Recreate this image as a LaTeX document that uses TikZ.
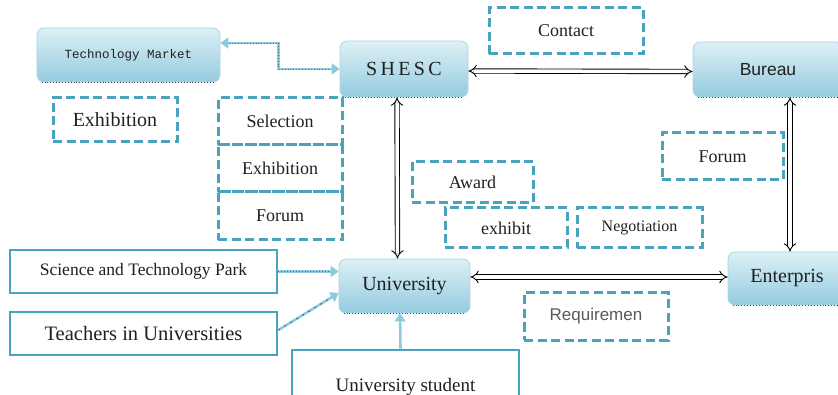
\documentclass[tikz,border=0pt]{standalone}
\usepackage{fontspec}
\setmainfont{Liberation Serif}
\setsansfont{Liberation Sans}
\setmonofont{Liberation Mono}
\usetikzlibrary{arrows.meta}
\definecolor{teal1}{HTML}{4AA3BE}
\definecolor{lb}{HTML}{8DCAE0}
\definecolor{gtop}{HTML}{DDF0F6}
\definecolor{gbot}{HTML}{94CBDE}
\definecolor{gbord}{HTML}{A8D5E4}
\definecolor{txt}{HTML}{202020}
\tikzset{
  gbox/.style={rounded corners=7pt, draw=gbord, line width=0.8pt, top color=gtop, bottom color=gbot, inner sep=0pt, text=txt},
  dbox/.style={draw=teal1, line width=3pt, dash pattern=on 9pt off 4.5pt, inner sep=0pt, text=txt, font=\fontsize{18}{20}\selectfont},
  sbox/.style={draw=teal1, line width=2.8pt, fill=white, inner sep=0pt, text=txt},
  dblarrow/.style={double=white, draw=black, line width=0.9pt, double distance=3.5pt, {Implies[scale=1.7]}-{Implies[scale=1.7]}},
  lbline/.style={draw=lb, line width=2.6pt},
  dotover/.style={draw=teal1!70!black, line width=0.9pt, dotted},
  lbtip/.style={-{Triangle[length=8pt,width=11pt]}},
}
\begin{document}
\begin{tikzpicture}[x=1pt,y=-1pt]
\useasboundingbox (0,0) rectangle (838,395);
\clip (0,0) rectangle (838,395);

% gradient nodes
\node[gbox, minimum width=183pt, minimum height=54pt, font=\ttfamily\fontsize{12.5}{14}\selectfont] (tm) at (128.5,55) {Technology Market};
\node[gbox, minimum width=128pt, minimum height=56pt, font=\fontsize{20}{22}\selectfont] (shesc) at (404,69) {S\,H\,E\,S\,C};
\node[gbox, minimum width=150pt, minimum height=55pt, font=\sffamily\fontsize{17.5}{20}\selectfont] (bureau) at (768,69.5) {Bureau};
\node[gbox, minimum width=131pt, minimum height=54pt, font=\fontsize{20}{22}\selectfont] (univ) at (404.5,286) {University};
\node[gbox, minimum width=118pt, minimum height=53pt, font=\fontsize{20}{22}\selectfont] (ent) at (787,278.5) {Enterpris};

% dotted bottom edges
\foreach \n in {tm,shesc,bureau,univ,ent}{
  \draw[black!70, line width=0.9pt, dotted] ([xshift=5pt]\n.south west) -- ([xshift=-5pt]\n.south east);
}

% dashed label boxes
\node[dbox, minimum width=154pt, minimum height=46pt] (contact) at (566,31) {Contact};
\node[dbox, minimum width=124pt, minimum height=44pt, font=\fontsize{20}{22}\selectfont] (exh1) at (115,120) {Exhibition};
\node[dbox, minimum width=124pt, minimum height=47pt] (sel) at (280,121.5) {Selection};
\node[dbox, minimum width=124pt, minimum height=47pt] (exh2) at (280,168.5) {Exhibition};
\node[dbox, minimum width=124pt, minimum height=48pt] (forum1) at (280,216) {Forum};
\node[dbox, minimum width=121pt, minimum height=47pt] (forum2) at (722.5,156.5) {Forum};
\node[dbox, minimum width=121pt, minimum height=41pt] (award) at (472.5,182.5) {Award};
\node[dbox, minimum width=122pt, minimum height=40pt] (exhibit) at (506,228) {exhibit};
\node[dbox, minimum width=125pt, minimum height=40pt, font=\fontsize{16}{18}\selectfont] (nego) at (639.5,228) {Negotiation};
\node[dbox, minimum width=144pt, minimum height=47pt, font=\sffamily\fontsize{17}{20}\selectfont, text=black!65] (req) at (596,316.5) {Requiremen};

% solid boxes
\node[sbox, minimum width=267pt, minimum height=43pt, font=\fontsize{17.5}{20}\selectfont] (park) at (143.5,271.5) {Science and Technology Park};
\node[sbox, minimum width=267pt, minimum height=43pt, font=\fontsize{20.5}{22}\selectfont] (teach) at (143.5,333.5) {Teachers in Universities};
\node[sbox, minimum width=227pt, minimum height=70pt, font=\fontsize{19}{21}\selectfont, text depth=0pt] (stud) at (405.5,385) {University student};

% double arrows
\draw[dblarrow] ([yshift=-2pt]shesc.east) -- ([yshift=-2pt]bureau.west);
\draw[dblarrow] ([xshift=-7pt]shesc.south) -- ([xshift=-7pt]univ.north);
\draw[dblarrow] ([xshift=22pt]bureau.south) -- ([xshift=3pt]ent.north);
\draw[dblarrow] ([yshift=9pt]univ.east) -- ([yshift=1.5pt]ent.west);

% light blue connectors
\draw[lbline, {Triangle[length=8pt,width=11pt]}-{Triangle[length=8pt,width=11pt]}] ([yshift=12pt]tm.east) -- ++(58,0) |- (shesc.west);
\draw[dotover] ([yshift=12pt,xshift=9pt]tm.east) -- ++(49,0) |- ([xshift=-9pt]shesc.west);
\draw[lbline, lbtip] (park.east) -- (park.east -| univ.west);
\draw[dotover] (park.east) -- ([xshift=-9pt]park.east -| univ.west);
\draw[lbline, lbtip] ([yshift=3.5pt]teach.east) -- ([yshift=-7pt]univ.west);
\draw[dotover, dash pattern=on 2pt off 5pt] ([yshift=3.5pt]teach.east) -- ([yshift=-12pt,xshift=-8pt]univ.west);
\draw[lbline, lbtip] ([xshift=-5pt]stud.north) -- ([xshift=-4.5pt]univ.south);
\end{tikzpicture}
\end{document}
